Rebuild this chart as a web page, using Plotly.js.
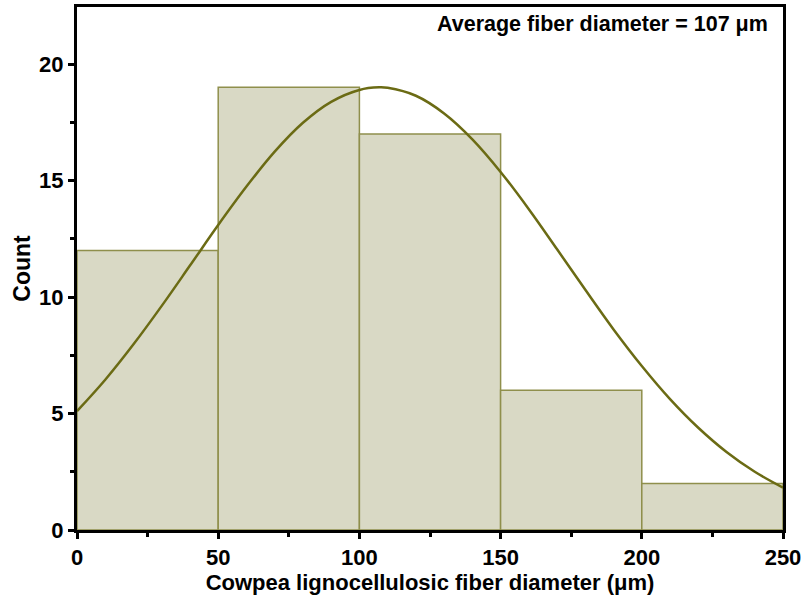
<!DOCTYPE html>
<html><head><meta charset="utf-8">
<script src="https://cdn.plot.ly/plotly-3.0.1.min.js"></script>
<style>html,body{margin:0;padding:0;background:#fff}</style>
</head><body>
<div id="chart" style="width:804px;height:599px"></div>
<script>
// Histogram bins (fiber diameter, µm)
var binCenters = [25, 75, 125, 175, 225];
var binCounts = [12, 19, 17, 6, 2];
var binWidth = 50;
// Fitted distribution curve
var curveX = [0, 10, 20, 30, 40, 50, 60, 70, 80, 90, 100, 107, 110, 120, 130, 140, 150, 160, 170, 180, 190, 200, 210, 220, 230, 240, 250];
var curveY = [5.1, 6.45, 7.97, 9.62, 11.35, 13.09, 14.74, 16.24, 17.48, 18.38, 18.89, 19.0, 18.98, 18.64, 17.88, 16.77, 15.37, 13.77, 12.05, 10.31, 8.61, 7.04, 5.62, 4.39, 3.35, 2.5, 1.82];
var xTicks = [0, 50, 100, 150, 200, 250];
var yTicks = [0, 5, 10, 15, 20];

var fam = 'Liberation Sans, Arial, sans-serif';
var tickFont = {family: fam, size: 22, color: '#000', weight: 'bold'};
var xTitleFont = {family: fam, size: 22, color: '#000', weight: 'bold'};
var yTitleFont = {family: fam, size: 23, color: '#000', weight: 'bold'};

var traces = [
  {type: 'bar', x: binCenters, y: binCounts, width: binWidth,
   marker: {color: '#d9d9c5', line: {color: '#8f8f4c', width: 1.5}},
   hoverinfo: 'skip', showlegend: false},
  {type: 'scatter', mode: 'lines', x: curveX, y: curveY,
   line: {color: '#6b6b14', width: 2.5, shape: 'spline'},
   hoverinfo: 'skip', showlegend: false}
];

var layout = {
  width: 804, height: 599,
  margin: {l: 77, r: 21, t: 7, b: 69},
  paper_bgcolor: '#fff', plot_bgcolor: '#fff',
  font: tickFont,
  bargap: 0,
  xaxis: {
    range: [0, 250], tickvals: xTicks, ticktext: xTicks.map(String),
    showgrid: false, zeroline: false,
    showline: true, mirror: true, linecolor: '#000', linewidth: 3,
    ticks: 'outside', ticklen: 6, tickwidth: 3, tickcolor: '#000',
    minor: {tickvals: [25, 75, 125, 175, 225], ticks: 'outside', ticklen: 4, tickwidth: 3, tickcolor: '#000', showgrid: false},
    tickfont: tickFont,
    title: {text: 'Cowpea lignocellulosic fiber diameter (μm)', font: xTitleFont, standoff: 5}
  },
  yaxis: {
    range: [0, 22.45], tickvals: yTicks, ticktext: yTicks.map(String),
    showgrid: false, zeroline: false,
    showline: true, mirror: true, linecolor: '#000', linewidth: 3,
    ticks: 'outside', ticklen: 6, tickwidth: 3, tickcolor: '#000',
    minor: {tickvals: [2.5, 7.5, 12.5, 17.5], ticks: 'outside', ticklen: 4, tickwidth: 3, tickcolor: '#000', showgrid: false},
    tickfont: tickFont,
    title: {text: 'Count', font: yTitleFont, standoff: 3}
  },
  annotations: [{
    xref: 'paper', yref: 'paper', x: 0.982, y: 0.995, xanchor: 'right', yanchor: 'top',
    text: 'Average fiber diameter = 107 μm', showarrow: false,
    font: {family: fam, size: 21.5, color: '#000', weight: 'bold'}
  }]
};

Plotly.newPlot('chart', traces, layout, {displayModeBar: false, staticPlot: true});
</script>
</body></html>
